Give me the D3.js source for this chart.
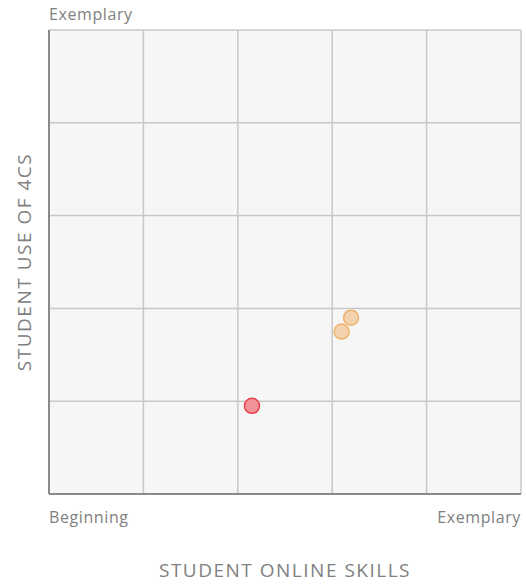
<!DOCTYPE html>
<html>
<head>
<meta charset="utf-8">
<script src="https://cdn.jsdelivr.net/npm/d3@7"></script>
<style>
  body { margin: 0; background: #fff; }
  text { font-family: "Open Sans", sans-serif; fill: #808080; }
</style>
</head>
<body>
<div id="chart"></div>
<script>
// points, scale 0..5 on both axes
var skills = [2.15, 3.10, 3.20];
var use4cs = [0.95, 1.75, 1.90];
var groups = ["red", "orange", "orange"];
var xLabels = ["Beginning", "Exemplary"];
var yTopLabel = "Exemplary";

var margin = { top: 30, right: 5, bottom: 90, left: 49 };
var W = 526, H = 584;
var width = W - margin.left - margin.right,
    height = H - margin.top - margin.bottom;

var colors = {
  red: { fill: "#f2959a", stroke: "#e8414b" },
  orange: { fill: "#f3d2ae", stroke: "#eeb36d" }
};

var x = d3.scaleLinear().domain([0, 5]).range([0, width]);
var y = d3.scaleLinear().domain([0, 5]).range([height, 0]);

var svg = d3.select("#chart").append("svg").attr("width", W).attr("height", H);
var g = svg.append("g").attr("transform", "translate(" + margin.left + "," + margin.top + ")");

g.append("rect").attr("width", width).attr("height", height).attr("fill", "#f6f6f6");

// grid
g.append("g").selectAll("line").data(d3.range(1, 6)).enter().append("line")
  .attr("x1", function (d) { return x(d); }).attr("x2", function (d) { return x(d); })
  .attr("y1", 0).attr("y2", height)
  .attr("stroke", "#c8c8c8").attr("stroke-width", 1.5);
g.append("g").selectAll("line").data(d3.range(1, 6)).enter().append("line")
  .attr("y1", function (d) { return y(d); }).attr("y2", function (d) { return y(d); })
  .attr("x1", 0).attr("x2", width)
  .attr("stroke", "#c8c8c8").attr("stroke-width", 1.5);

// axes lines
g.append("line").attr("x1", 0).attr("x2", 0).attr("y1", 0).attr("y2", height)
  .attr("stroke", "#8a8a8a").attr("stroke-width", 2);
g.append("line").attr("x1", 0).attr("x2", width).attr("y1", height).attr("y2", height)
  .attr("stroke", "#8a8a8a").attr("stroke-width", 2);

// points
var pts = skills.map(function (s, i) { return { x: s, y: use4cs[i], g: groups[i] }; });
g.selectAll("circle").data(pts).enter().append("circle")
  .attr("cx", function (d) { return x(d.x); })
  .attr("cy", function (d) { return y(d.y); })
  .attr("r", 7.5)
  .attr("fill", function (d) { return colors[d.g].fill; })
  .attr("stroke", function (d) { return colors[d.g].stroke; })
  .attr("stroke-width", 1.5);

// labels
var small = { size: 16, ls: 0.6 };
g.append("text").attr("x", 0).attr("y", -10).attr("font-size", small.size).attr("letter-spacing", small.ls).text(yTopLabel);
g.append("text").attr("x", 0).attr("y", height + 29).attr("font-size", small.size).attr("letter-spacing", small.ls).text(xLabels[0]);
g.append("text").attr("x", width).attr("y", height + 29).attr("font-size", small.size).attr("letter-spacing", small.ls)
  .attr("text-anchor", "end").text(xLabels[1]);

g.append("text").attr("x", 236).attr("y", height + 83).attr("font-size", 19).attr("letter-spacing", 1.5)
  .attr("text-anchor", "middle").text("STUDENT ONLINE SKILLS");
g.append("text").attr("transform", "translate(-18," + (height / 2) + ") rotate(-90)")
  .attr("font-size", 19).attr("letter-spacing", 1.5).attr("text-anchor", "middle").text("STUDENT USE OF 4CS");
</script>
</body>
</html>
